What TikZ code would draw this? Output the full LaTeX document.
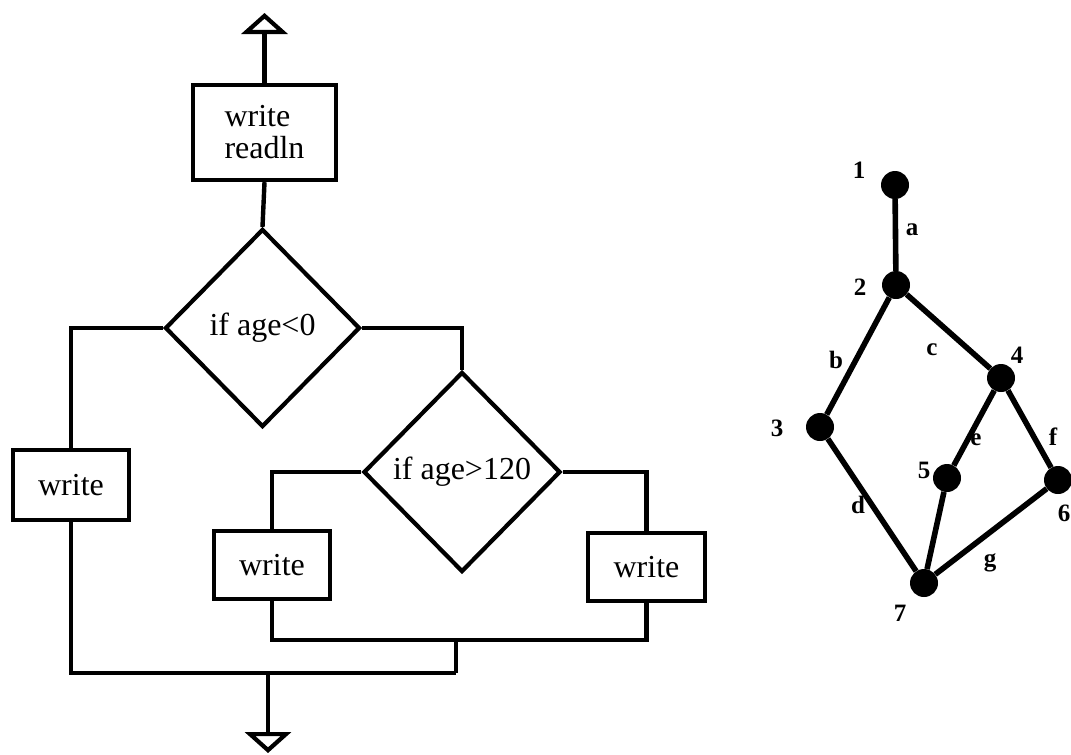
\documentclass[tikz,border=0pt]{standalone}
\usepackage{fontspec}
\setmainfont{Liberation Serif}
\usetikzlibrary{shapes.geometric,arrows.meta}
\begin{document}
\begin{tikzpicture}[x=1pt,y=-1pt,
  flow/.style={line width=4.4pt, line join=miter},
  procbox/.style={draw, line width=4.4pt, inner sep=0pt, align=left,
    font=\fontsize{32}{32}\selectfont},
  decision/.style={draw, diamond, line width=4.2pt, inner sep=0pt,
    font=\fontsize{32}{32}\selectfont},
  opentip/.style={-{Triangle[open,length=21pt,width=46pt,line width=4.2pt]}},
  vtx/.style={circle, fill=black, minimum size=28pt, inner sep=0pt},
  vlabel/.style={inner sep=0pt, font=\fontsize{25}{26}\selectfont\bfseries},
  edge/.style={line width=5.6pt}
]
\useasboundingbox (0,0) rectangle (1071,755);

% ---------- flowchart ----------
\node[procbox, minimum width=143pt, minimum height=95pt] (rd) at (264.5,132.5) {write\\readln};
\node[decision, minimum width=195pt, minimum height=198pt] (q1) at (262.5,328) {if age<0};
\node[procbox, minimum width=116pt, minimum height=70pt] (wl) at (71,485) {write};
\node[decision, minimum width=197pt, minimum height=200pt] (q2) at (462,472) {if age>120};
\node[procbox, minimum width=116pt, minimum height=68pt] (wm) at (272,565) {write};
\node[procbox, minimum width=117pt, minimum height=68pt] (wr) at (646.5,567) {write};

\coordinate (entry) at (264.5,13);
\coordinate (join1) at (456,640);
\coordinate (join2) at (456,673);
\coordinate (exitA) at (268,673);
\coordinate (exitB) at (268,753);

\draw[flow, opentip] (rd.north) -- (entry);
\draw[flow] (rd.south) -- (q1.north);
\draw[flow] (q1.west) -| (wl.north);
\draw[flow] (q1.east) -| (q2.north);
\draw[flow] (q2.west) -| (wm.north);
\draw[flow] (q2.east) -| (wr.north);
\draw[flow] (wm.south) |- (join1) -| (wr.south);
\draw[flow] (join1) -- (join2);
\draw[flow] (wl.south) |- (join2);
\draw[flow, opentip] (exitA) -- (exitB);

% ---------- graph ----------
\node[vtx] (n1) at (895,185) {};
\node[vtx] (n2) at (896,285) {};
\node[vtx] (n3) at (820,427) {};
\node[vtx] (n4) at (1001,378) {};
\node[vtx] (n5) at (947,478) {};
\node[vtx] (n6) at (1058,480) {};
\node[vtx] (n7) at (924,583) {};

\draw[edge] (n1) -- (n2);
\draw[edge] (n2) -- (n3);
\draw[edge] (n2) -- (n4);
\draw[edge] (n3) -- (n7);
\draw[edge] (n4) -- (n5);
\draw[edge] (n4) -- (n6);
\draw[edge] (n5) -- (n7);
\draw[edge] (n6) -- (n7);

\node[vlabel] (l1) at (859,170) {1};
\node[vlabel] (l2) at (860,287) {2};
\node[vlabel] (l3) at (777,428) {3};
\node[vlabel] (l4) at (1017,355) {4};
\node[vlabel] (l5) at (924,470) {5};
\node[vlabel] (l6) at (1064,513) {6};
\node[vlabel] (l7) at (900,613) {7};

\node[vlabel] (ea) at (912,230) {a};
\node[vlabel] (eb) at (836,360) {b};
\node[vlabel] (ec) at (932,350) {c};
\node[vlabel] (ed) at (858,505) {d};
\node[vlabel] (ee) at (976,440) {e};
\node[vlabel] (ef) at (1053,437) {f};
\node[vlabel] (eg) at (990,563) {g};
\end{tikzpicture}
\end{document}
